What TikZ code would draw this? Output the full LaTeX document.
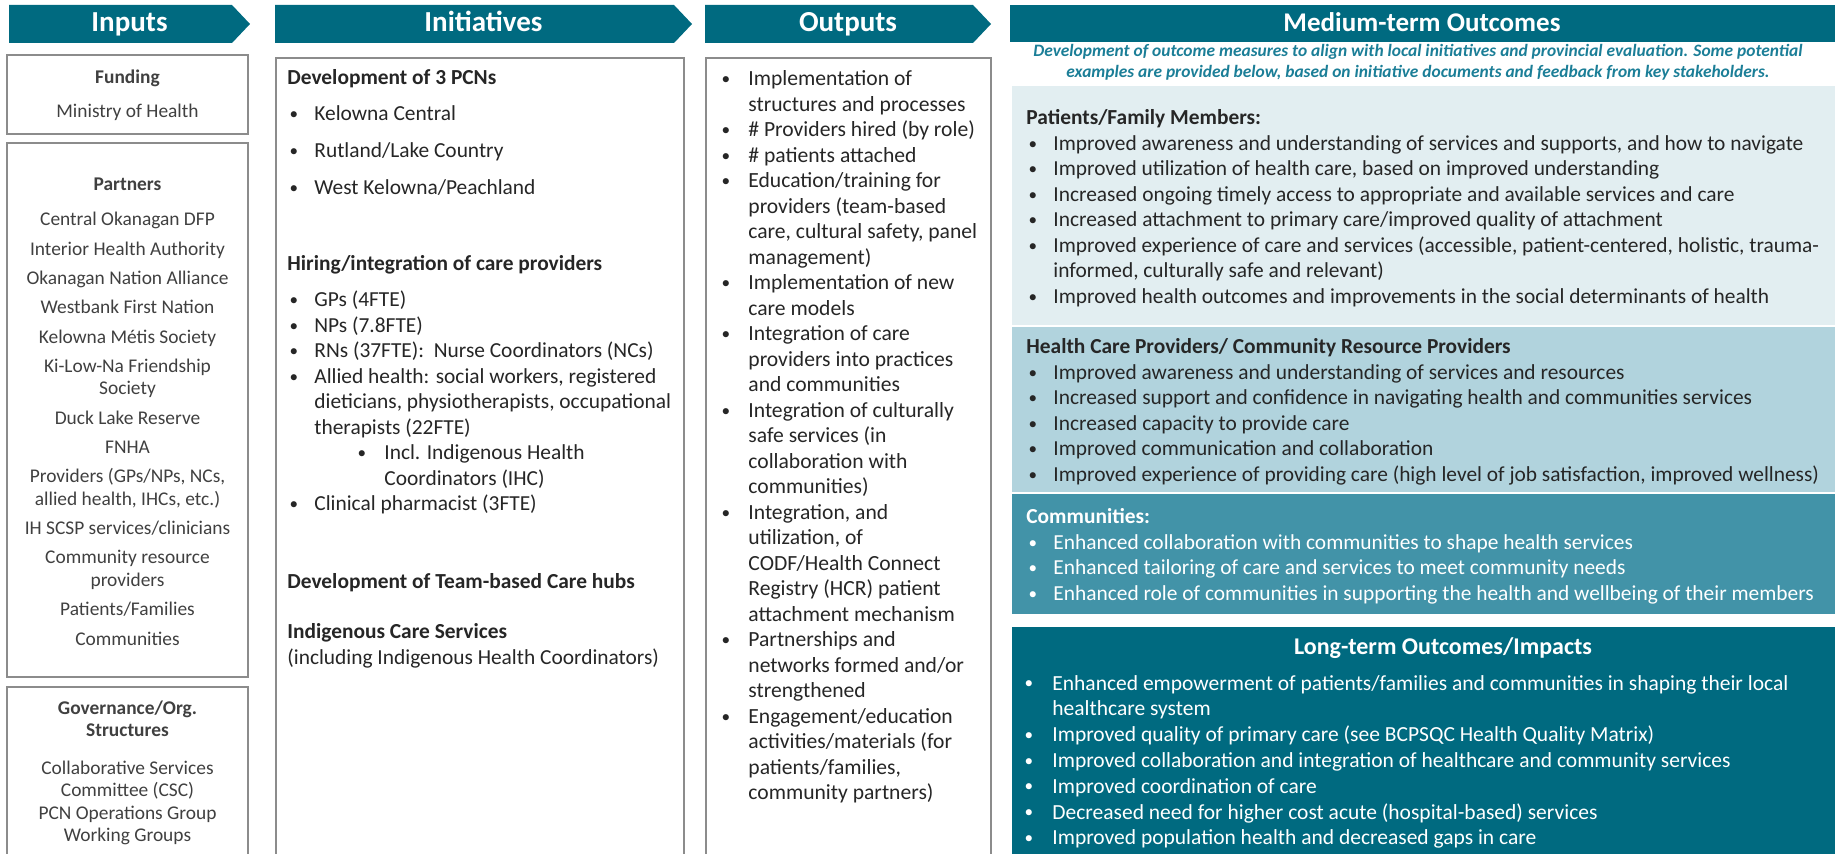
\documentclass[tikz,border=0pt]{standalone}
\usepackage{fontspec}
\usepackage{graphicx}
\setmainfont{Carlito}
\usetikzlibrary{calc}
\definecolor{tealdark}{RGB}{0,106,128}
\definecolor{pale}{RGB}{226,238,241}
\definecolor{midblue}{RGB}{177,211,221}
\definecolor{commblue}{RGB}{66,147,168}
\definecolor{noteteal}{RGB}{27,126,151}
\definecolor{boxgray}{RGB}{140,140,140}
\definecolor{txtgray}{RGB}{38,38,38}
\definecolor{leftgray}{RGB}{64,64,64}
\tikzstyle{hdr}=[fill=tealdark, draw=none]
\tikzstyle{box}=[draw=boxgray, line width=0.75pt, fill=white]
\tikzstyle{htext}=[inner sep=0pt, anchor=base, text=white, font=\fontsize{14.5}{17}\selectfont\bfseries]
\tikzstyle{annot}=[inner sep=0pt, anchor=base west, text=txtgray]
\tikzstyle{lannot}=[inner sep=0pt, anchor=base, text=leftgray, font=\fontsize{9.7}{11.25}\selectfont]
\newcommand{\lst}[1]{\begin{tabular}[t]{@{}l@{}}#1\end{tabular}}
\newcommand{\cst}[1]{\begin{tabular}[t]{@{}c@{}}#1\end{tabular}}
\newcommand{\bu}[1][13.5pt]{\makebox[#1][l]{\hspace{0.1em}\raisebox{0.065em}{\scalebox{0.8}{\textbullet}}}}
\newcommand{\nb}[1][13.5pt]{\hspace*{#1}}
\newcommand{\drawheads}[0]
{
  \fill[hdr] (9,5) -- (232,5) -- (250,24) -- (232,43) -- (9,43) -- cycle;
  \fill[hdr] (275,5) -- (674,5) -- (692,24) -- (674,43) -- (275,43) -- cycle;
  \fill[hdr] (705,5) -- (973,5) -- (991,24) -- (973,43) -- (705,43) -- cycle;
  \fill[hdr] (1010,5) rectangle (1835,42);
  \node[htext] (inputs) at (129.5,32) {Inputs};
  \node[htext] (initiatives) at (483.5,32) {Initiatives};
  \node[htext] (outputs) at (848,32) {Outputs};
  \node[htext, font=\fontsize{13.5}{15}\selectfont\bfseries] (medium) at (1422,32) {Medium-term Outcomes};
}

\begin{document}
\begin{tikzpicture}[x=0.5pt,y=-0.5pt]
	\clip (0,0) rectangle (1835,854);

	\drawheads{}

	% inputs column
	\draw[box] (7,55) rectangle (248,134);
	\draw[box] (7,143) rectangle (248,677);
	\draw[box] (7,687) rectangle (248,880);
	\node[lannot] (fundhd) at (127.5,84) {\bfseries Funding};
	\node[lannot] (fundtxt) at (127.5,118) {Ministry of Health};
	\node[lannot] (partnershd) at (127.5,191) {\bfseries Partners};
	\node[lannot] (partners) at (127.5,226) {\cst{Central Okanagan DFP\\[3.4pt] Interior Health Authority\\[3.4pt]
		Okanagan Nation Alliance\\[3.4pt] Westbank First Nation\\[3.4pt] Kelowna Métis Society\\[3.4pt]
		Ki-Low-Na Friendship\\ Society\\[3.4pt] Duck Lake Reserve\\[3.4pt] FNHA\\[3.4pt]
		Providers (GPs/NPs, NCs,\\ allied health, IHCs, etc.)\\[3.4pt] IH SCSP services/clinicians\\[3.4pt]
		Community  resource\\ providers\\[3.4pt] Patients/Families\\[3.4pt] Communities}};
	\node[lannot] (govhd) at (127.5,714) {\cst{\bfseries Governance/Org.\\ \bfseries Structures}};
	\node[lannot] (gov) at (127.5,774) {\cst{Collaborative Services\\ Committee  (CSC)\\ PCN  Operations Group\\ Working Groups}};

	% initiatives column
	\draw[box] (276,58) rectangle (684,880);
	\node[annot, font=\fontsize{10.7}{12.75}\selectfont] (pcn) at (287,85) {\lst{\textbf{Development of 3 PCNs}\\[5.25pt]
		\bu Kelowna Central\\[5.75pt] \bu Rutland/Lake Country\\[5.75pt] \bu West Kelowna/Peachland}};
	\node[annot, font=\fontsize{10.7}{12.75}\selectfont] (hiring) at (287,271) {\lst{\textbf{Hiring/integration of care providers}\\[5.25pt]
		\bu GPs (4FTE)\\ \bu NPs (7.8FTE)\\ \bu RNs (37FTE):\ \ Nurse Coordinators (NCs)\\
		\bu Allied health: social workers, registered\\ \nb dieticians, physiotherapists, occupational\\ \nb therapists (22FTE)\\
		\hspace*{34pt}\bu[14.5pt]Incl. Indigenous Health\\ \hspace*{48.5pt}Coordinators (IHC)\\
		\bu Clinical pharmacist (3FTE)}};
	\node[annot, font=\fontsize{10.7}{12.75}\selectfont] (hubs) at (287,589) {\textbf{Development of Team-based Care hubs}};
	\node[annot, font=\fontsize{10.7}{12.75}\selectfont] (indig) at (287,639) {\lst{\textbf{Indigenous Care Services}\\ (including Indigenous Health Coordinators)}};

	% outputs column
	\draw[box] (706,58) rectangle (991,880);
	\node[annot, font=\fontsize{10.8}{12.75}\selectfont] (outlist) at (719,86) {\lst{\bu[14.5pt]Implementation of\\ \nb[14.5pt]structures and processes\\
		\bu[14.5pt]\# Providers hired (by role)\\ \bu[14.5pt]\# patients attached\\
		\bu[14.5pt]Education/training for\\ \nb[14.5pt]providers (team-based\\ \nb[14.5pt]care, cultural safety, panel\\ \nb[14.5pt]management)\\
		\bu[14.5pt]Implementation of new\\ \nb[14.5pt]care models\\
		\bu[14.5pt]Integration of care\\ \nb[14.5pt]providers into practices\\ \nb[14.5pt]and communities\\
		\bu[14.5pt]Integration of culturally\\ \nb[14.5pt]safe services (in\\ \nb[14.5pt]collaboration with\\ \nb[14.5pt]communities)\\
		\bu[14.5pt]Integration, and\\ \nb[14.5pt]utilization, of\\ \nb[14.5pt]CODF/Health Connect\\ \nb[14.5pt]Registry (HCR) patient\\ \nb[14.5pt]attachment mechanism\\
		\bu[14.5pt]Partnerships and\\ \nb[14.5pt]networks formed and/or\\ \nb[14.5pt]strengthened\\
		\bu[14.5pt]Engagement/education\\ \nb[14.5pt]activities/materials (for\\ \nb[14.5pt]patients/families,\\ \nb[14.5pt]community partners)}};

	% medium-term outcomes
	\node[inner sep=0pt, anchor=base, text=noteteal, font=\fontsize{8.7}{10.5}\selectfont\bfseries\itshape] (note) at (1418,57)
		{\cst{Development of outcome measures to align with local initiatives and provincial evaluation. Some potential\\
		examples are provided below, based on initiative documents and feedback from key stakeholders.}};
	\fill[pale] (1012,86) rectangle (1835,325);
	\fill[midblue] (1012,327) rectangle (1835,492);
	\fill[commblue] (1012,494) rectangle (1835,614);
	\node[annot, font=\fontsize{10.7}{12.75}\selectfont] (patients) at (1026,125) {\lst{\textbf{Patients/Family Members:}\\
		\bu Improved awareness and understanding of services and supports, and how to navigate\\
		\bu Improved utilization of health care, based on improved understanding\\
		\bu Increased ongoing timely access to appropriate and available services and care\\
		\bu Increased attachment to primary care/improved quality of attachment\\
		\bu Improved experience of care and services (accessible, patient-centered, holistic, trauma-\\ \nb informed, culturally safe and relevant)\\
		\bu Improved health outcomes and improvements in the social determinants of health}};
	\node[annot, font=\fontsize{10.7}{12.75}\selectfont] (hcp) at (1026,354) {\lst{\textbf{Health Care Providers/ Community Resource Providers}\\
		\bu Improved awareness and understanding of services and resources\\
		\bu Increased support and confidence in navigating health and communities services\\
		\bu Increased capacity to provide care\\
		\bu Improved communication and collaboration\\
		\bu Improved experience of providing care (high level of job satisfaction, improved wellness)}};
	\node[annot, text=white, font=\fontsize{10.7}{12.75}\selectfont] (comm) at (1026,524) {\lst{\textbf{Communities:}\\
		\bu Enhanced collaboration with communities to shape health services\\
		\bu Enhanced tailoring of care and services to meet community needs\\
		\bu Enhanced role of communities in supporting the health and wellbeing of their members}};

	% long-term outcomes
	\fill[tealdark] (1012,627) rectangle (1835,880);
	\node[htext, font=\fontsize{12}{15}\selectfont\bfseries] (longterm) at (1443,654) {Long-term Outcomes/Impacts};
	\node[annot, text=white, font=\fontsize{10.75}{12.9}\selectfont] (ltlist) at (1022,690) {\lst{\bu[15pt]Enhanced empowerment of patients/families and communities in shaping their local\\
		\nb[15pt]healthcare system\\
		\bu[15pt]Improved quality of primary care (see BCPSQC Health Quality Matrix)\\
		\bu[15pt]Improved collaboration and integration of healthcare and community services\\
		\bu[15pt]Improved coordination of care\\
		\bu[15pt]Decreased need for higher cost acute (hospital-based) services\\
		\bu[15pt]Improved population health and decreased gaps in care}};
\end{tikzpicture}
\end{document}
